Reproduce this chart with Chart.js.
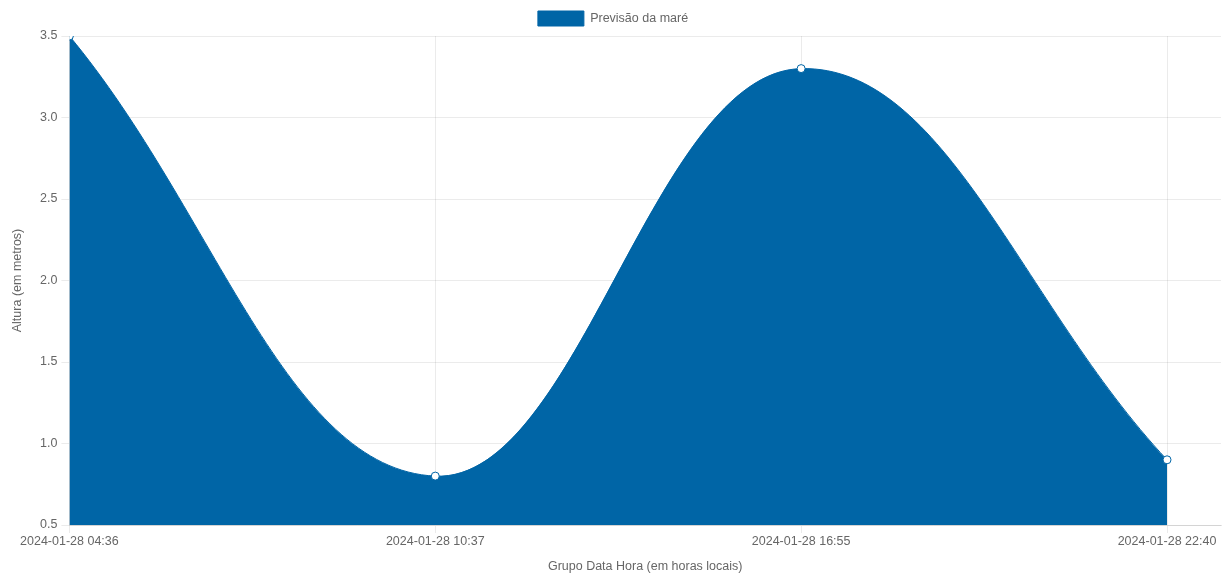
<!DOCTYPE html>
<html>
<head>
<meta charset="utf-8">
<script src="https://cdn.jsdelivr.net/npm/chart.js@4/dist/chart.umd.min.js"></script>
<style>
  html, body { margin: 0; padding: 0; background: #fff; }
  #wrap { width: 1232px; height: 578px; }
</style>
</head>
<body>
<div id="wrap"><canvas id="mare"></canvas></div>
<script>
// Tide forecast: time groups (local hours) and water height in metres
const horarios = ['2024-01-28 04:36', '2024-01-28 10:37', '2024-01-28 16:55', '2024-01-28 22:40'];
const alturas = [3.5, 0.8, 3.3, 0.9];
const alturaTicks = [0.5, 1.0, 1.5, 2.0, 2.5, 3.0, 3.5];

const azul = 'rgb(0, 101, 166)';
const fonte = { family: 'Liberation Sans, Arial, sans-serif', size: 12.5 };

Chart.defaults.font.family = fonte.family;
Chart.defaults.font.size = fonte.size;
Chart.defaults.color = '#666';

const pontos = alturas.map((y, i) => ({ x: i, y }));

new Chart(document.getElementById('mare'), {
  type: 'line',
  data: {
    datasets: [{
      label: 'Previsão da maré',
      data: pontos,
      backgroundColor: azul,
      borderColor: azul,
      borderWidth: 1,
      fill: 'start',
      tension: 0.4,
      pointRadius: 4,
      pointBackgroundColor: '#fff',
      pointBorderColor: azul,
      pointBorderWidth: 1
    }]
  },
  options: {
    responsive: true,
    maintainAspectRatio: false,
    animation: false,
    layout: { padding: { left: 5, right: 11, top: 0, bottom: 0 } },
    plugins: {
      legend: {
        labels: { boxWidth: 46, boxHeight: 15, padding: 11, font: fonte }
      },
      tooltip: { enabled: false }
    },
    scales: {
      x: {
        type: 'linear',
        min: 0,
        max: (horarios.length - 1) * 1152 / 1098,
        grid: { color: 'rgba(0,0,0,0.08)', tickLength: 8 },
        border: { color: 'rgba(0,0,0,0.1)' },
        ticks: {
          stepSize: 1,
          includeBounds: false,
          maxRotation: 0,
          padding: 1,
          callback: (v) => horarios[v] ?? ''
        },
        title: {
          display: true,
          text: 'Grupo Data Hora (em horas locais)',
          padding: { top: 9, bottom: 4 },
          font: fonte
        }
      },
      y: {
        min: 0.5,
        max: 3.5,
        afterBuildTicks: (s) => { s.ticks = alturaTicks.map(v => ({ value: v })); },
        grid: { color: 'rgba(0,0,0,0.08)', tickLength: 8 },
        border: { color: 'rgba(0,0,0,0.1)' },
        ticks: { padding: 4, callback: (v) => v.toFixed(1) },
        title: {
          display: true,
          text: 'Altura (em metros)',
          padding: { top: 5, bottom: 11 },
          font: fonte
        }
      }
    }
  }
});
</script>
</body>
</html>
